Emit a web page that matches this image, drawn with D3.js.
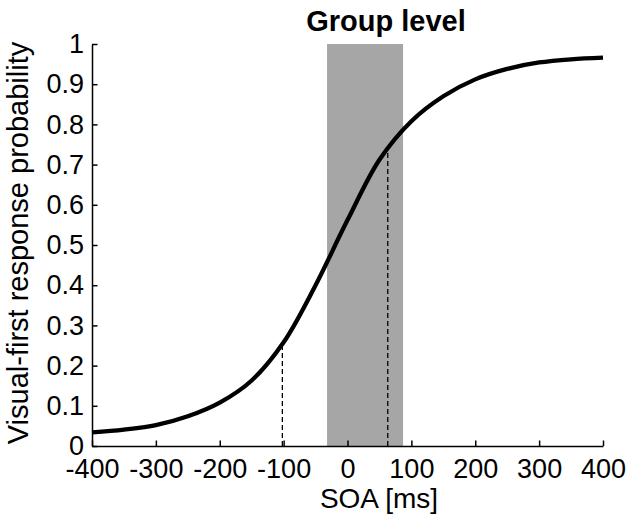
<!DOCTYPE html>
<html>
<head>
<meta charset="utf-8">
<script src="https://cdn.jsdelivr.net/npm/d3@7"></script>
<style>
  body { margin: 0; background: #fff; }
  svg { display: block; font-family: "Liberation Sans", Arial, sans-serif; }
</style>
</head>
<body>
<svg id="chart" width="641" height="516"></svg>
<script>
// values
const soa = [-400, -350, -300, -250, -200, -150, -100, -50, 0, 50, 100, 150, 200, 250, 300, 350, 400];
const prob = [0.034, 0.041, 0.052, 0.074, 0.108, 0.163, 0.258, 0.40, 0.562, 0.712, 0.808, 0.870, 0.912, 0.938, 0.954, 0.962, 0.966];
const band = [-32, 87];            // shaded interval [ms]
const dashX = [-102, 63];          // 25% / 75% points [ms]
const dashY = [0.255, 0.735];
const xTicks = [-400, -300, -200, -100, 0, 100, 200, 300, 400];
const yTicks = [0, 0.1, 0.2, 0.3, 0.4, 0.5, 0.6, 0.7, 0.8, 0.9, 1];

const svg = d3.select("#chart");
const margin = {top: 44, right: 38, bottom: 70, left: 92};
const width = +svg.attr("width");
const height = +svg.attr("height");

const x = d3.scaleLinear()
  .domain([-400, 400])
  .range([margin.left, width - margin.right]);
const y = d3.scaleLinear()
  .domain([0, 1])
  .range([height - margin.bottom, margin.top]);

// gray band
svg.append("rect")
  .attr("x", x(band[0]))
  .attr("y", y(1))
  .attr("width", x(band[1]) - x(band[0]))
  .attr("height", y(0) - y(1))
  .attr("fill", "#a6a6a6");

// dashed markers
svg.selectAll(".dash")
  .data(dashX)
  .enter()
  .append("line")
    .attr("x1", d => x(d))
    .attr("x2", d => x(d))
    .attr("y1", y(0))
    .attr("y2", (d, i) => y(dashY[i]))
    .attr("stroke", "#000")
    .attr("stroke-width", 1.3)
    .attr("stroke-dasharray", "5,3");

// axes (plain hyphen for negatives, like the original)
const xAxis = g => g
  .attr("transform", `translate(0,${y(0)})`)
  .call(d3.axisBottom(x).tickValues(xTicks).tickFormat(d => String(d))
    .tickSizeInner(-5.5).tickSizeOuter(0).tickPadding(13))
  .call(g => g.selectAll("text").attr("font-size", 27).attr("fill", "#000").attr("dy", "0.72em"));
const yAxis = g => g
  .attr("transform", `translate(${x(-400)},0)`)
  .call(d3.axisLeft(y).tickValues(yTicks).tickFormat(d => String(d))
    .tickSizeInner(-5.5).tickSizeOuter(0).tickPadding(8))
  .call(g => g.selectAll("text").attr("font-size", 27).attr("fill", "#000"));

svg.append("g").call(xAxis);
svg.append("g").call(yAxis);
svg.selectAll(".domain, .tick line").attr("stroke", "#000").attr("stroke-width", 1.5);

// fitted curve
const line = d3.line()
  .x((d, i) => x(soa[i]))
  .y(d => y(d))
  .curve(d3.curveCatmullRom.alpha(0.5));

svg.append("path")
  .datum(prob)
  .attr("fill", "none")
  .attr("stroke", "#000")
  .attr("stroke-width", 4.3)
  .attr("stroke-linejoin", "round")
  .attr("d", line);

// labels
svg.append("text")
  .attr("x", 386)
  .attr("y", 31)
  .attr("text-anchor", "middle")
  .attr("font-size", 29)
  .attr("font-weight", "bold")
  .text("Group level");

svg.append("text")
  .attr("x", 379)
  .attr("y", 508)
  .attr("text-anchor", "middle")
  .attr("font-size", 28)
  .text("SOA [ms]");

svg.append("text")
  .attr("transform", "translate(28,243) rotate(-90)")
  .attr("text-anchor", "middle")
  .attr("font-size", 29)
  .text("Visual-first response probability");
</script>
</body>
</html>
